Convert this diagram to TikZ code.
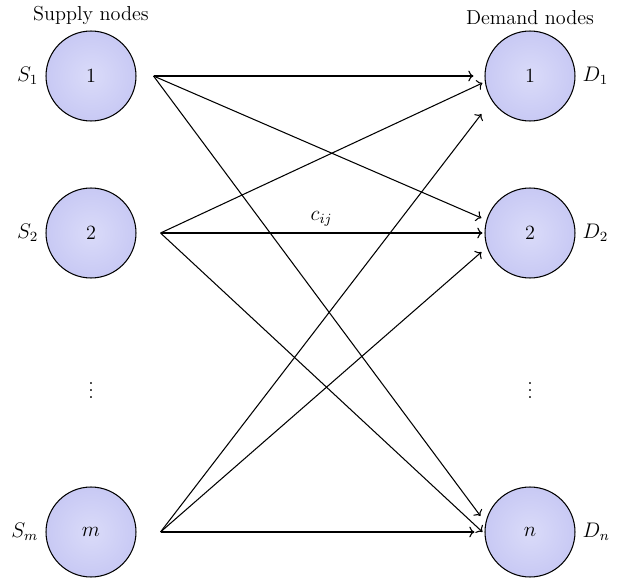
\documentclass[tikz,border=0pt]{standalone}
\usepackage{tikz}
\usetikzlibrary{arrows.meta, positioning, shadings}
\usepackage{amsmath}
\usepackage{xcolor}

\definecolor{nodein}{RGB}{218,219,249}
\definecolor{nodeout}{RGB}{200,201,244}

\begin{document}
\begin{tikzpicture}[
    x=0.02cm, y=-0.02cm,
    font=\fontsize{11.5}{14}\selectfont,
    vertex/.style={
        draw,
        circle,
        line width=0.6pt,
        inner color=nodein,
        outer color=nodeout,
        minimum size=1.8cm
    },
    arrow/.style={->, line width=0.6pt}
]
\useasboundingbox (0,0) rectangle (623,578);

% supply side
\node[vertex] (s1) at (91,76) {1};
\node[vertex] (s2) at (91,233) {2};
\node[vertex] (sm) at (91,532) {$m$};
\node (sdots) at (91,385) {$\vdots$};
\node (sup) [above=0pt of s1] {Supply nodes};
\node [left=0.02cm of s1] {$S_1$};
\node [left=0.02cm of s2] {$S_2$};
\node [left=0.02cm of sm] {$S_m$};

% demand side
\node[vertex] (d1) at (530,76) {1};
\node[vertex] (d2) at (530,233) {2};
\node[vertex] (dn) at (530,532) {$n$};
\node (ddots) at (530,385) {$\vdots$};
\node (dem) [above=0pt of d1] {Demand nodes};
\node [right=0.02cm of d1] {$D_1$};
\node [right=0.02cm of d2] {$D_2$};
\node [right=0.02cm of dn] {$D_n$};

% arrow start points
\coordinate (s1out) at ([xshift=0.34cm]s1.east);
\coordinate (s2out) at ([xshift=0.48cm]s2.east);
\coordinate (smout) at ([xshift=0.48cm]sm.east);

% arrow end points
\coordinate (d1a) at ([xshift=-0.22cm]d1.west);
\coordinate (d1b) at ([shift={(-0.04cm,-0.14cm)}]d1.west);
\coordinate (d1c) at ([shift={(-0.06cm,-0.76cm)}]d1.west);
\coordinate (d2a) at ([shift={(-0.06cm,0.30cm)}]d2.west);
\coordinate (d2b) at ([xshift=-0.04cm]d2.west);
\coordinate (d2c) at ([shift={(-0.06cm,-0.38cm)}]d2.west);
\coordinate (dna) at ([shift={(-0.08cm,0.32cm)}]dn.west);
\coordinate (dnb) at ([xshift=-0.04cm]dn.west);
\coordinate (dnc) at ([xshift=-0.20cm]dn.west);

\draw[arrow] (s1out) -- (d1a);
\draw[arrow] (s1out) -- (d2a);
\draw[arrow] (s1out) -- (dna);
\draw[arrow] (s2out) -- (d1b);
\draw[arrow] (s2out) -- node[midway, above] {$c_{ij}$} (d2b);
\draw[arrow] (s2out) -- (dnb);
\draw[arrow] (smout) -- (d1c);
\draw[arrow] (smout) -- (d2c);
\draw[arrow] (smout) -- (dnc);

\end{tikzpicture}
\end{document}
